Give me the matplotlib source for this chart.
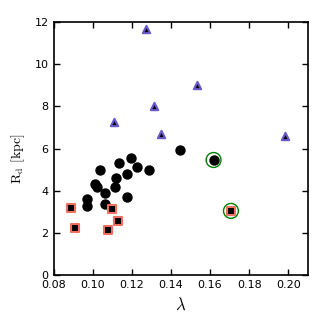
import matplotlib
matplotlib.use('Agg')
import matplotlib.pyplot as plt

plt.rcParams['mathtext.fontset'] = 'cm'

# black circles
circ_lam = [0.1197, 0.1137, 0.1227, 0.1287, 0.1038, 0.1175, 0.1120, 0.1011, 0.1021,
            0.1113, 0.1065, 0.1178, 0.0973, 0.0970, 0.1065, 0.1444, 0.1618]
circ_rd = [5.57, 5.32, 5.13, 5.00, 4.99, 4.79, 4.61, 4.31, 4.18,
           4.18, 3.92, 3.71, 3.62, 3.30, 3.36, 5.94, 5.46]

# squares (red edge)
sq_lam = [0.0891, 0.1099, 0.1129, 0.0912, 0.1077, 0.1707]
sq_rd = [3.20, 3.13, 2.57, 2.26, 2.13, 3.05]

# triangles
tri_lam = [0.1272, 0.1111, 0.1313, 0.1531, 0.1350, 0.1985]
tri_rd = [11.66, 7.27, 8.02, 9.03, 6.70, 6.60]

# ringed points
ring_lam = [0.1618, 0.1707]
ring_rd = [5.46, 3.05]

fig = plt.figure(figsize=(3.17, 3.17), dpi=100)
ax = fig.add_axes([0.169, 0.1315, 0.802, 0.7995])

ax.scatter(ring_lam, ring_rd, s=115, facecolor='none', edgecolor='green', lw=1.0, zorder=2)
ax.scatter(circ_lam, circ_rd, s=42, color='black', zorder=3)
ax.scatter(sq_lam, sq_rd, s=30, marker='s', facecolor='black', edgecolor='#f07060', lw=1.5, zorder=3)
ax.scatter(tri_lam, tri_rd, s=28, marker='^', facecolor='black', edgecolor='#6a5acd', lw=1.5, zorder=3)

ax.set_xlim(0.08, 0.21)
ax.set_ylim(0, 12)
ax.set_xticks([0.08, 0.10, 0.12, 0.14, 0.16, 0.18, 0.20])
ax.set_yticks([0, 2, 4, 6, 8, 10, 12])
ax.tick_params(direction='in', top=True, right=True, labelsize=8, length=4, width=1)
for sp in ax.spines.values():
    sp.set_linewidth(1.2)

ax.set_xlabel(r'$\lambda$', fontsize=12)
ax.set_ylabel(r'$\mathrm{R_d\ [kpc]}$', fontsize=10)
ax.yaxis.set_label_coords(-0.105, 0.46)

fig.savefig('out.png', dpi=100)
